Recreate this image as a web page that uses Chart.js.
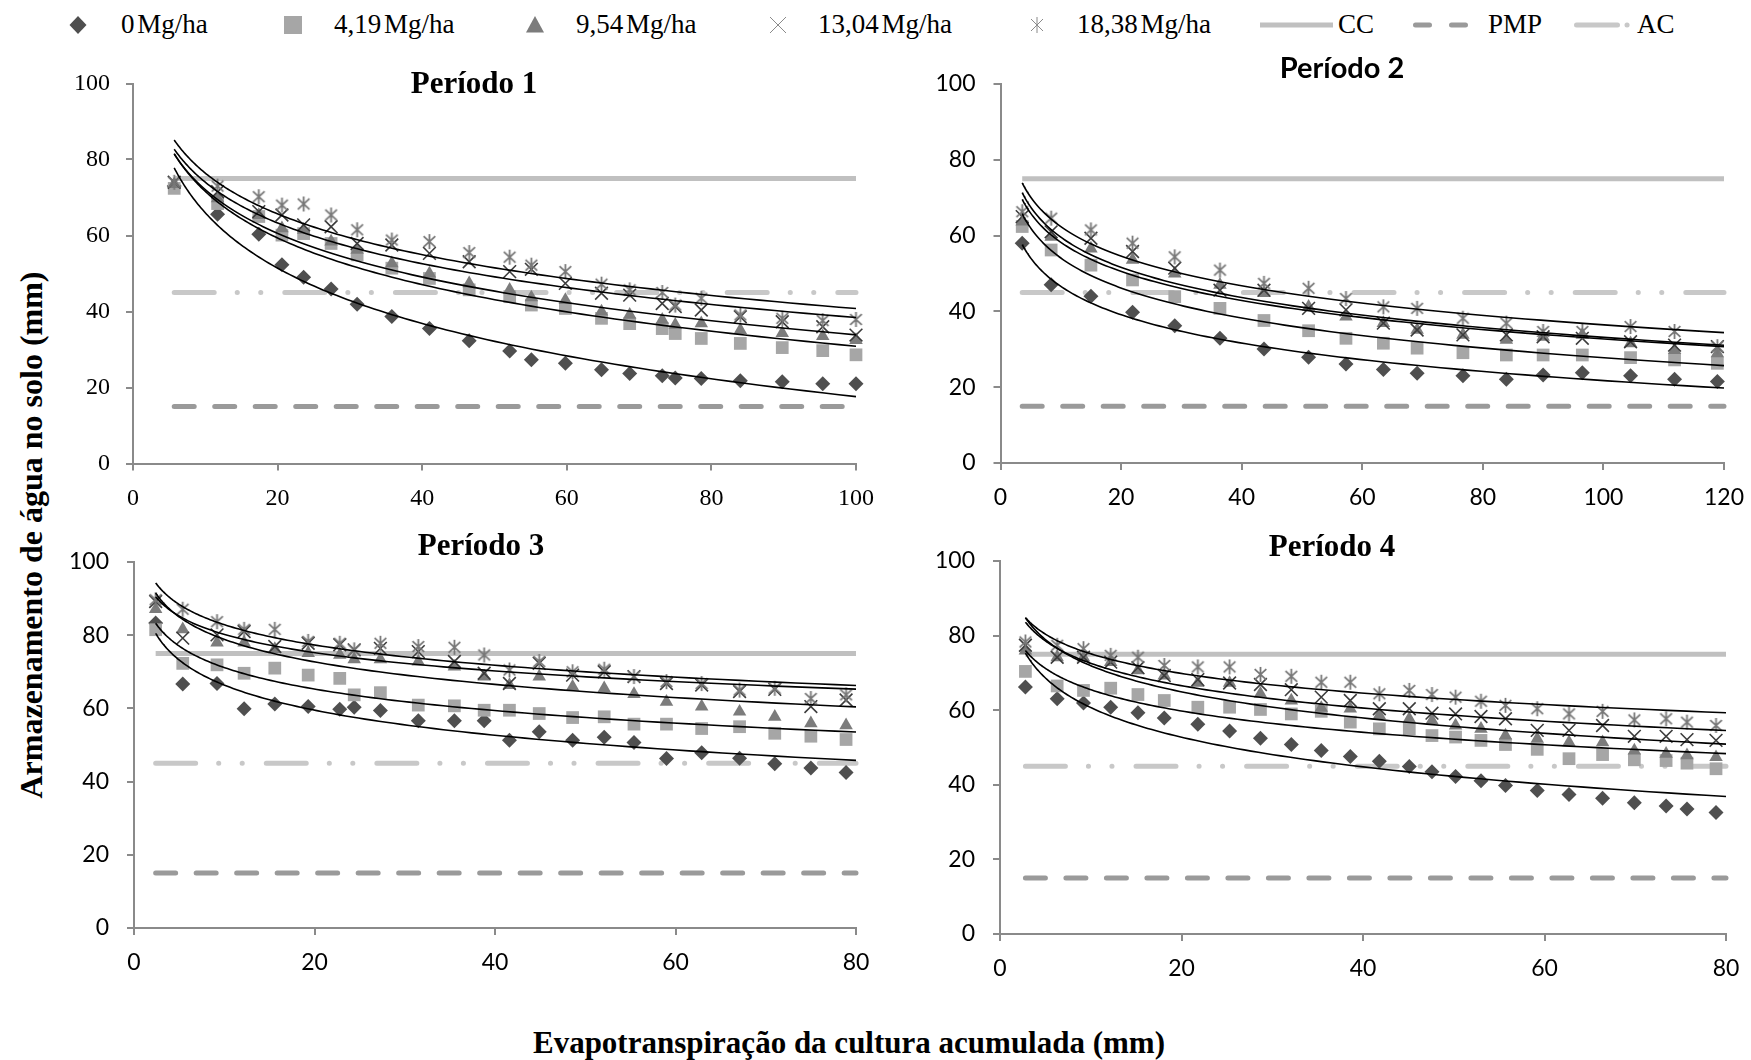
<!DOCTYPE html>
<html lang="pt">
<head>
<meta charset="utf-8">
<title>Armazenamento de água no solo</title>
<script src="https://cdn.jsdelivr.net/npm/chart.js@4.4.1/dist/chart.umd.min.js"></script>
<style>
  html, body { margin: 0; padding: 0; background: #fff; }
  #stage { position: relative; width: 1751px; height: 1060px; overflow: hidden; background: #fff; }
  #stage canvas.panel { position: absolute; }
  #stage canvas.swatch { position: absolute; }
  .legend-text {
    position: absolute; top: 11px;
    font-family: "Liberation Serif", "Times New Roman", serif;
    font-size: 27px; line-height: 27px; word-spacing: -4px;
    color: #000; white-space: nowrap;
  }
  .axis-title {
    position: absolute; font-family: "Liberation Serif", "Times New Roman", serif;
    font-weight: bold; color: #000; white-space: nowrap; text-align: center;
  }
</style>
</head>
<body>
<div id="stage"></div>
<script>
// ---------------- data ----------------
const seriesNames = ['0 Mg/ha', '4,19 Mg/ha', '9,54 Mg/ha', '13,04 Mg/ha', '18,38 Mg/ha'];
const refNames = ['CC', 'PMP', 'AC'];
const refValues = [75, 15, 45];            // CC, PMP, AC (mm)
const periodTitles = ['Período 1', 'Período 2', 'Período 3', 'Período 4'];
const xAxisMax = [100, 120, 80, 80];
const xTickStep = 20;
const yAxisMax = 100;
const yTickStep = 20;
const yAxisTitle = 'Armazenamento de água no solo (mm)';
const xAxisTitle = 'Evapotranspiração da cultura acumulada (mm)';

// Período 1
const p1Et       = [5.7, 11.7, 17.4, 20.6, 23.6, 27.4, 31, 35.8, 41, 46.5, 52.1, 55.1, 59.8, 64.8, 68.7, 73.2, 75, 78.6, 84, 89.8, 95.4, 100];
const p1Dose0    = [73, 65.6, 60.3, 52.3, 49, 45.9, 41.9, 38.7, 35.5, 32.3, 29.6, 27.3, 26.4, 24.7, 23.7, 23.1, 22.5, 22.4, 21.8, 21.5, 21, 21];
const p1Dose419  = [72.4, 68.4, 65, 60.1, 60.5, 57.9, 54.9, 51.4, 48.7, 45.7, 43.9, 41.7, 40.8, 38.2, 36.8, 35.5, 34.2, 32.9, 31.6, 30.5, 29.7, 28.6];
const p1Dose954  = [73.5, 69.8, 65.4, 61.9, 61.5, 58.4, 56.2, 52.7, 50, 47.4, 45.7, 43.7, 43, 40, 39.1, 37.8, 36.5, 36.9, 35.1, 34.3, 33.5, 32.5];
const p1Dose1304 = [74, 71.5, 66.3, 65.4, 62.8, 62.3, 57.9, 57.5, 55.3, 53.1, 50.5, 51.1, 47.4, 44.8, 44.3, 42.1, 41.3, 40.4, 38.6, 37.3, 36, 33.8];
const p1Dose1838 = [74, 73, 70.2, 68, 68.3, 65.4, 61.5, 58.8, 58.4, 55.5, 54.3, 52.2, 50.5, 47.2, 45.7, 45, 41.7, 43.5, 39.1, 38.2, 37.6, 37.9];

// Período 2
const p2Et       = [3.6, 8.4, 15, 21.9, 28.9, 36.4, 43.7, 51.1, 57.3, 63.5, 69.1, 76.7, 83.9, 90, 96.5, 104.5, 111.8, 118.9];
const p2Dose0    = [58, 47, 44, 39.8, 36.2, 32.9, 30.1, 27.9, 26.1, 24.7, 23.7, 23, 22.1, 23.2, 23.8, 23, 22.1, 21.5];
const p2Dose419  = [62.4, 56.2, 52.2, 48.3, 43.9, 40.8, 37.6, 34.9, 32.9, 31.6, 30.3, 29.1, 28.5, 28.5, 28.5, 27.8, 27.2, 26.3];
const p2Dose954  = [63.7, 59.7, 56.6, 53.6, 50, 47, 44.8, 41.2, 38.6, 36.9, 35.1, 33.8, 32.5, 33.3, 33.8, 31.6, 29.8, 28.9];
const p2Dose1304 = [65, 61, 59.3, 55.8, 51.4, 45.6, 45.6, 40.8, 40.4, 36.9, 35.1, 33.8, 33.8, 33.3, 32.9, 32, 31.1, 30.7];
const p2Dose1838 = [66.3, 64.6, 61.5, 58, 54.4, 50.9, 47.4, 46.1, 43.4, 41.2, 40.8, 38.2, 36.9, 34.7, 34.7, 36, 34.7, 30.7];

// Período 3
const p3Et       = [2.4, 5.4, 9.2, 12.2, 15.6, 19.3, 22.8, 24.4, 27.3, 31.5, 35.5, 38.8, 41.6, 44.9, 48.6, 52.1, 55.4, 59, 62.9, 67.1, 71, 75, 78.9];
const p3Dose0    = [83.3, 66.7, 66.8, 59.9, 61.2, 60.5, 59.8, 60.3, 59.4, 56.6, 56.6, 56.6, 51.3, 53.6, 51.3, 52.1, 50.7, 46.3, 47.9, 46.4, 44.9, 43.7, 42.5];
const p3Dose419  = [81.5, 72.3, 71.9, 69.6, 71, 69.1, 68.2, 63.7, 64.3, 60.9, 60.7, 59.5, 59.5, 58.6, 57.5, 57.7, 55.7, 55.7, 54.5, 55, 53.2, 52.4, 51.5];
const p3Dose954  = [87.1, 81.6, 78, 78, 76.2, 75.1, 74.6, 73.4, 73.4, 72.8, 71.4, 68.7, 66.4, 68.7, 65.9, 65.5, 63.9, 61.8, 60.5, 59.1, 57.7, 55.9, 55.4];
const p3Dose1304 = [89.2, 79.2, 80.1, 81, 76.9, 77.8, 77.4, 76, 76.4, 75.5, 72.8, 69.6, 66.8, 72.3, 69.1, 70, 68.7, 66.8, 66.4, 64.6, 65.2, 60.5, 62.3];
const p3Dose1838 = [89.7, 87.1, 83.7, 81.6, 81.6, 78.3, 77.8, 76, 77.8, 76.9, 76.7, 74.6, 70.5, 72.8, 70, 70.7, 68.7, 67.3, 66.8, 65, 65.5, 62.7, 63.7];

// Período 4
const p4Et       = [2.8, 6.3, 9.2, 12.2, 15.2, 18.1, 21.8, 25.3, 28.7, 32.1, 35.4, 38.6, 41.8, 45.1, 47.6, 50.2, 53, 55.7, 59.2, 62.7, 66.4, 69.9, 73.4, 75.7, 78.9];
const p4Dose0    = [66.2, 63.1, 61.9, 60.8, 59.3, 57.9, 56.2, 54.4, 52.5, 50.8, 49.2, 47.6, 46.3, 44.9, 43.5, 42.2, 41.1, 39.8, 38.5, 37.4, 36.4, 35.2, 34.3, 33.5, 32.6];
const p4Dose419  = [70.4, 66.5, 65.3, 65.9, 64.2, 62.6, 60.8, 60.8, 60.2, 59, 59.7, 56.8, 55, 55, 53.2, 52.8, 51.9, 50.8, 49.5, 47, 48.1, 46.7, 46.5, 45.8, 44.3];
const p4Dose954  = [76, 74.2, 74.1, 72.9, 70.7, 69.3, 67.3, 67.3, 64.4, 62.6, 60.6, 60.4, 58.6, 57.7, 57.2, 55.9, 55, 53.2, 52.3, 51.4, 51.4, 49.2, 48.3, 47.9, 47.4];
const p4Dose1304 = [77.4, 74.2, 74.2, 72.9, 71.4, 69.3, 68.2, 67.3, 66.9, 65.5, 63.5, 62.6, 60.4, 60.4, 59.2, 59, 58.3, 57.7, 54.6, 54.6, 55.9, 53, 53, 52.1, 51.9];
const p4Dose1838 = [78.3, 77.4, 76.5, 74.7, 74.2, 72, 71.6, 71.6, 69.6, 69.1, 67.5, 67.5, 64.4, 65.3, 64.2, 63.5, 62.4, 61.3, 60.4, 59, 59.7, 57.4, 57.7, 56.8, 55.9];

const periodEt = [p1Et, p2Et, p3Et, p4Et];
const periodDoses = [
  [p1Dose0, p1Dose419, p1Dose954, p1Dose1304, p1Dose1838],
  [p2Dose0, p2Dose419, p2Dose954, p2Dose1304, p2Dose1838],
  [p3Dose0, p3Dose419, p3Dose954, p3Dose1304, p3Dose1838],
  [p4Dose0, p4Dose419, p4Dose954, p4Dose1304, p4Dose1838]
];

// ---------------- layout & style ----------------
const stage = document.getElementById('stage');
const SERIF = '"Liberation Serif", "Times New Roman", serif';
const SANS = 'Lato, "Open Sans", sans-serif';
const AXIS_GREY = '#8a8a8a';

// plot rectangles (page pixels) of the four panels
const panelBoxes = [
  { left: 133,    right: 856,  top: 83.5, bottom: 463.5 },
  { left: 1000.5, right: 1724, top: 84,   bottom: 463 },
  { left: 134,    right: 856,  top: 562,  bottom: 928 },
  { left: 1000,   right: 1726, top: 561,  bottom: 934 }
];
const panelTitleSpots = [
  { x: 474,  y: 93,  font: 'bold 31px ' + SERIF },
  { x: 1342, y: 78,  font: 'bold 29px ' + SANS },
  { x: 481,  y: 555, font: 'bold 31px ' + SERIF },
  { x: 1332, y: 556, font: 'bold 31px ' + SERIF }
];
const tickFonts = [
  { family: SERIF, size: 24 },
  { family: SANS, size: 23 },
  { family: SANS, size: 23 },
  { family: SANS, size: 23 }
];

// asterisk marker: an X crossed by a vertical stroke
function makeStar(size, color, lw) {
  const c = document.createElement('canvas');
  c.width = size; c.height = size;
  const g = c.getContext('2d');
  g.strokeStyle = color; g.lineWidth = lw;
  const m = size / 2, h = size / 2 - 1;
  g.beginPath();
  g.moveTo(m - h * 0.78, m - h * 0.72); g.lineTo(m + h * 0.78, m + h * 0.72);
  g.moveTo(m + h * 0.78, m - h * 0.72); g.lineTo(m - h * 0.78, m + h * 0.72);
  g.moveTo(m, m - h); g.lineTo(m, m + h);
  g.stroke();
  return c;
}

const markerStyles = [
  { pointStyle: 'rectRot',  radius: 7.5, fill: '#4f4f4f', stroke: '#4f4f4f', width: 0 },
  { pointStyle: 'rect',     radius: 9,   fill: '#a6a6a6', stroke: '#a6a6a6', width: 0 },
  { pointStyle: 'triangle', radius: 7.8, fill: '#7c7c7c', stroke: '#7c7c7c', width: 0 },
  { pointStyle: 'crossRot', radius: 9,   fill: '#3c3c3c', stroke: '#3c3c3c', width: 1.6 },
  { pointStyle: makeStar(17, '#777777', 1.8), radius: 8, fill: '#777777', stroke: '#777777', width: 1.8 }
];
const refStyles = [
  { color: '#c0c0c0', dash: [],                           cap: 'butt' },
  { color: '#9a9a9a', dash: [20, 20.5],                   cap: 'round' },
  { color: '#c8c8c8', dash: [40, 23, 0.1, 23.4, 0.1, 24], cap: 'round' }
];

// least-squares logarithmic trend line  y = a + b ln(x)
function logFit(xs, ys) {
  const n = xs.length;
  const lx = xs.map(Math.log);
  const mx = lx.reduce((s, v) => s + v, 0) / n;
  const my = ys.reduce((s, v) => s + v, 0) / n;
  let sxy = 0, sxx = 0;
  for (let i = 0; i < n; i++) { sxy += (lx[i] - mx) * (ys[i] - my); sxx += (lx[i] - mx) ** 2; }
  const b = sxy / sxx;
  return { a: my - b * mx, b };
}
function trendPoints(xs, ys, xEnd) {
  const { a, b } = logFit(xs, ys);
  const x0 = xs[0], steps = 120, pts = [];
  for (let k = 0; k <= steps; k++) {
    const x = x0 * Math.pow(xEnd / x0, k / steps);
    pts.push({ x, y: a + b * Math.log(x) });
  }
  return pts;
}

const panelTitlePlugin = {
  id: 'panelTitle',
  afterDraw(chart, args, opts) {
    const ctx = chart.ctx;
    ctx.save();
    ctx.font = opts.font;
    ctx.fillStyle = '#000';
    ctx.textAlign = 'center';
    ctx.textBaseline = 'alphabetic';
    ctx.fillText(opts.text, opts.x, opts.y);
    ctx.restore();
  }
};

const YW = 90, XH = 60, PAD_T = 50, PAD_R = 30;

function makePanel(idx) {
  const box = panelBoxes[idx];
  const cl = Math.floor(box.left - YW);
  const ct = Math.floor(box.top - PAD_T);
  const cr = Math.ceil(box.right + PAD_R);
  const cb = Math.ceil(box.bottom + XH);
  const canvas = document.createElement('canvas');
  canvas.className = 'panel';
  canvas.width = cr - cl; canvas.height = cb - ct;
  canvas.style.left = cl + 'px'; canvas.style.top = ct + 'px';
  canvas.style.width = (cr - cl) + 'px'; canvas.style.height = (cb - ct) + 'px';
  stage.appendChild(canvas);

  const et = periodEt[idx];
  const xMax = xAxisMax[idx];
  const datasets = [];

  refValues.forEach((v, r) => {
    datasets.push({
      label: refNames[r],
      data: [{ x: et[0], y: v }, { x: xMax, y: v }],
      showLine: true, pointRadius: 0, borderWidth: 5,
      borderColor: refStyles[r].color, borderDash: refStyles[r].dash,
      borderCapStyle: refStyles[r].cap, order: 30, clip: false
    });
  });

  periodDoses[idx].forEach((vals, s) => {
    const m = markerStyles[s];
    datasets.push({
      label: seriesNames[s],
      data: et.map((x, i) => ({ x, y: vals[i] })),
      showLine: false, pointStyle: m.pointStyle, pointRadius: m.radius,
      backgroundColor: m.fill, borderColor: m.stroke, borderWidth: m.width,
      order: 25 - s, clip: false
    });
  });

  periodDoses[idx].forEach((vals, s) => {
    datasets.push({
      label: seriesNames[s] + ' (log)',
      data: trendPoints(et, vals, xMax),
      showLine: true, pointRadius: 0, borderColor: '#000', borderWidth: 1.6,
      tension: 0, order: 10, clip: false
    });
  });

  const tf = tickFonts[idx];
  const spot = panelTitleSpots[idx];

  new Chart(canvas, {
    type: 'scatter',
    data: { datasets },
    plugins: [panelTitlePlugin],
    options: {
      responsive: false, animation: false, devicePixelRatio: 1, events: [],
      layout: { padding: { left: box.left - YW - cl, top: box.top - ct, right: cr - box.right, bottom: cb - box.bottom - XH } },
      plugins: {
        legend: { display: false }, tooltip: { enabled: false },
        panelTitle: { text: periodTitles[idx], x: spot.x - cl, y: spot.y - ct, font: spot.font }
      },
      scales: {
        x: {
          type: 'linear', position: 'bottom', min: 0, max: xMax,
          border: { display: true, color: AXIS_GREY, width: 2 },
          grid: { drawOnChartArea: false, drawTicks: true, tickLength: 7, color: AXIS_GREY, lineWidth: 2 },
          ticks: { stepSize: xTickStep, color: '#000', font: tf, padding: 14, maxRotation: 0, autoSkip: false },
          afterFit(scale) { scale.height = XH; scale.paddingLeft = 0; scale.paddingRight = 0; }
        },
        y: {
          type: 'linear', position: 'left', min: 0, max: yAxisMax,
          border: { display: true, color: AXIS_GREY, width: 2 },
          grid: { drawOnChartArea: false, drawTicks: true, tickLength: 7, color: AXIS_GREY, lineWidth: 2 },
          ticks: { stepSize: yTickStep, color: '#000', font: tf, padding: idx === 0 ? 16 : 18 },
          afterFit(scale) { scale.width = YW; scale.paddingTop = 0; scale.paddingBottom = 0; }
        }
      }
    }
  });
}

// ---------------- legend ----------------
const legendItems = [
  { kind: 'marker', s: 0, cx: 78,   textX: 121 },
  { kind: 'marker', s: 1, cx: 293,  textX: 334 },
  { kind: 'marker', s: 2, cx: 535,  textX: 576 },
  { kind: 'marker', s: 3, cx: 778,  textX: 818 },
  { kind: 'marker', s: 4, cx: 1037, textX: 1077 },
  { kind: 'line', r: 0, x0: 1260, x1: 1333, textX: 1338 },
  { kind: 'line', r: 1, x0: 1413, x1: 1468, textX: 1488 },
  { kind: 'line', r: 2, x0: 1574, x1: 1627, textX: 1637 }
];
const LEG_CY = 25;

function drawLegend() {
  legendItems.forEach(it => {
    const c = document.createElement('canvas');
    c.className = 'swatch';
    let left, w = 30, h = 30;
    if (it.kind === 'marker') { left = it.cx - 15; }
    else { left = it.x0 - 5; w = it.x1 - it.x0 + 10; }
    c.width = w; c.height = h;
    c.style.left = left + 'px'; c.style.top = (LEG_CY - 15) + 'px';
    const ctx = c.getContext('2d');
    const mx = it.kind === 'marker' ? 15 : 0, my = 15;
    if (it.kind === 'marker') {
      const m = markerStyles[it.s];
      ctx.fillStyle = m.fill; ctx.strokeStyle = m.stroke;
      ctx.beginPath();
      if (it.s === 0) {
        ctx.moveTo(mx, my - 9); ctx.lineTo(mx + 8.5, my); ctx.lineTo(mx, my + 9); ctx.lineTo(mx - 8.5, my); ctx.closePath(); ctx.fill();
      } else if (it.s === 1) {
        ctx.rect(mx - 9, my - 9, 18, 18); ctx.fill();
      } else if (it.s === 2) {
        ctx.moveTo(mx, my - 9); ctx.lineTo(mx + 9, my + 7.5); ctx.lineTo(mx - 9, my + 7.5); ctx.closePath(); ctx.fill();
      } else if (it.s === 3) {
        ctx.lineWidth = 1; ctx.strokeStyle = '#8a8a8a';
        ctx.moveTo(mx - 8, my - 8); ctx.lineTo(mx + 8, my + 8);
        ctx.moveTo(mx + 8, my - 8); ctx.lineTo(mx - 8, my + 8); ctx.stroke();
      } else {
        ctx.lineWidth = 1; ctx.strokeStyle = '#8a8a8a';
        ctx.moveTo(mx - 6, my - 6); ctx.lineTo(mx + 6, my + 6);
        ctx.moveTo(mx + 6, my - 6); ctx.lineTo(mx - 6, my + 6);
        ctx.moveTo(mx, my - 8); ctx.lineTo(mx, my + 8); ctx.stroke();
      }
    } else {
      const rs = refStyles[it.r];
      ctx.strokeStyle = rs.color; ctx.lineWidth = 5;
      ctx.beginPath();
      if (it.r === 0) {
        ctx.lineCap = 'butt';
        ctx.moveTo(5, my); ctx.lineTo(w - 5, my);
      } else if (it.r === 1) {
        ctx.lineCap = 'round';
        ctx.moveTo(7.5, my); ctx.lineTo(21.5, my);
        ctx.moveTo(43.5, my); ctx.lineTo(57.5, my);
      } else {
        ctx.lineCap = 'round';
        ctx.moveTo(7.5, my); ctx.lineTo(48.5, my);
        ctx.moveTo(58, my); ctx.lineTo(58.1, my);
      }
      ctx.stroke();
    }
    stage.appendChild(c);

    const t = document.createElement('div');
    t.className = 'legend-text';
    t.style.left = it.textX + 'px';
    t.textContent = it.kind === 'marker' ? seriesNames[it.s] : refNames[it.r];
    stage.appendChild(t);
  });
}

function drawAxisTitles() {
  const yt = document.createElement('div');
  yt.className = 'axis-title';
  yt.textContent = yAxisTitle;
  Object.assign(yt.style, { fontSize: '32px', lineHeight: '32px', width: '700px', height: '32px',
    left: (31 - 350) + 'px', top: (535 - 16) + 'px', transform: 'rotate(-90deg)' });
  stage.appendChild(yt);

  const xt = document.createElement('div');
  xt.className = 'axis-title';
  xt.textContent = xAxisTitle;
  Object.assign(xt.style, { fontSize: '31px', lineHeight: '31px', width: '1000px',
    left: (849 - 500) + 'px', top: '1027px' });
  stage.appendChild(xt);
}

drawLegend();
drawAxisTitles();
for (let i = 0; i < 4; i++) makePanel(i);
</script>
</body>
</html>
